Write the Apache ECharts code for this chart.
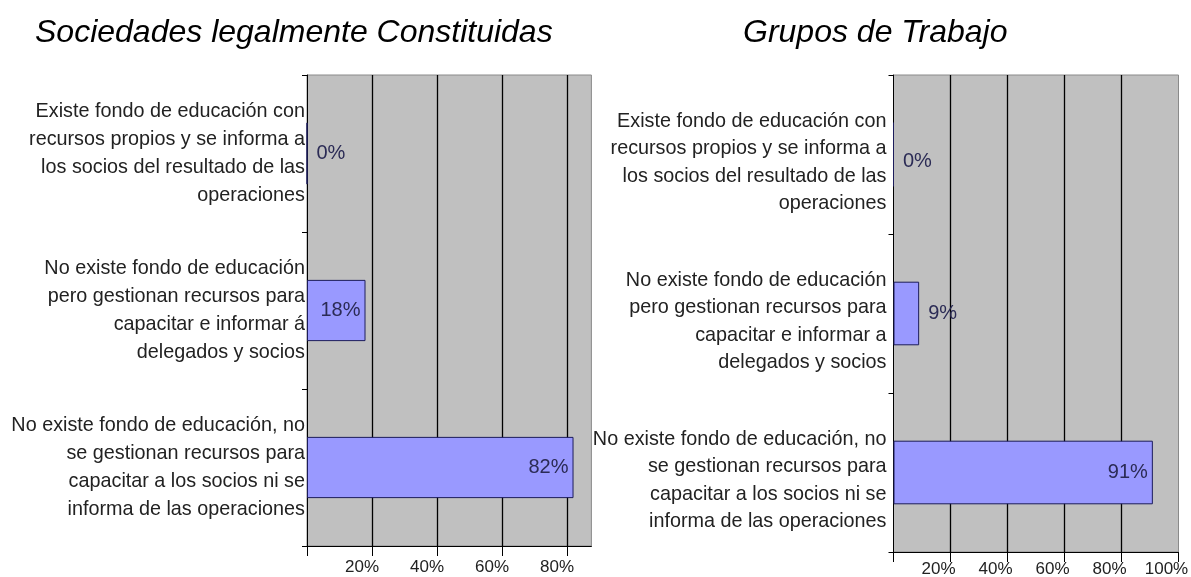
<!DOCTYPE html>
<html>
<head>
<meta charset="utf-8">
<script src="https://cdn.jsdelivr.net/npm/echarts@6/dist/echarts.min.js"></script>
<style>
  html, body { margin: 0; padding: 0; background: #ffffff; }
  #chart { width: 1191px; height: 577px; }
</style>
</head>
<body>
<div id="chart"></div>
<script>
// Categories (shared by both panels), top to bottom
const categories = [
  'Existe fondo de educación con\nrecursos propios y se informa a\nlos socios del resultado de las\noperaciones',
  'No existe fondo de educación\npero gestionan recursos para\ncapacitar e informar a\ndelegados y socios',
  'No existe fondo de educación, no\nse gestionan recursos para\ncapacitar a los socios ni se\ninforma de las operaciones'
];
// Left panel's second label uses an accented "á"
const categoriesLeft = [
  categories[0],
  'No existe fondo de educación\npero gestionan recursos para\ncapacitar e informar á\ndelegados y socios',
  categories[2]
];

// Percent of respondents per category
const sociedadesValues = [0, 18, 82];
const gruposValues = [0, 9, 91];

// Panel titles
const titleLeft = 'Sociedades legalmente Constituidas';
const titleRight = 'Grupos de Trabajo';

// Axis tick values
const tickValuesLeft = [0, 20, 40, 60, 80];
const tickLabelsLeft = [20, 40, 60, 80];
const tickValuesRight = [0, 20, 40, 60, 80, 100];
const tickLabelsRight = [20, 40, 60, 80, 100];

const FONT = '"Liberation Sans", Arial, sans-serif';
const CAT_SIZE = 19.8;

// Small bars carry their value label just past the bar end
function barData(values, zeroOffset) {
  return values.map(v => ({
    value: v,
    label: v < 15
      ? { position: 'right', distance: 9, offset: v === 0 ? [0, zeroOffset] : [0, 0] }
      : { position: 'insideRight', distance: 5 }
  }));
}

function valueAxis(gridIndex, max, ticks, labels, labelShift, margin, showMaxLine) {
  return {
    type: 'value',
    gridIndex: gridIndex,
    min: 0,
    max: max,
    interval: 20,
    axisLine: { show: true, lineStyle: { color: '#000000', width: 1 } },
    axisTick: {
      show: true, length: 10, inside: false,
      customValues: ticks,
      lineStyle: { color: '#000000', width: 1 }
    },
    axisLabel: {
      customValues: labels,
      formatter: v => v + '%',
      fontFamily: FONT,
      fontSize: 17,
      color: '#222222',
      margin: margin,
      align: 'center',
      padding: [0, labelShift, 0, 0]
    },
    splitLine: {
      show: true,
      showMinLine: false,
      showMaxLine: showMaxLine,
      lineStyle: { color: '#000000', width: 1.3 }
    }
  };
}

// Category labels as rich text; an optional spacer line on top nudges the block down
function categoryAxis(gridIndex, data, margin, topSpacer, lh) {
  return {
    type: 'category',
    gridIndex: gridIndex,
    data: data,
    inverse: true,
    axisLine: { show: true, lineStyle: { color: '#000000', width: 1 } },
    axisTick: { show: true, length: 5, alignWithLabel: false, lineStyle: { color: '#000000' } },
    axisLabel: {
      align: 'right',
      margin: margin,
      interval: 0,
      formatter: v => {
        const lines = v.split('\n').map(l => '{t|' + l + '}').join('\n');
        return topSpacer > 0 ? '{sp| }\n' + lines : lines;
      },
      rich: {
        t: { fontFamily: FONT, fontSize: CAT_SIZE, lineHeight: lh, color: '#222222' },
        sp: { fontSize: 2, lineHeight: topSpacer, height: topSpacer }
      }
    },
    splitLine: { show: false }
  };
}

const seriesLabel = {
  show: true,
  fontFamily: FONT,
  fontSize: 20,
  color: '#2b2b55',
  formatter: p => p.value + '%'
};

const option = {
  animation: false,
  backgroundColor: '#ffffff',
  title: [
    {
      text: titleLeft, left: 30, top: 12,
      textStyle: { fontFamily: FONT, fontStyle: 'italic', fontWeight: 'normal', fontSize: 32, color: '#000000' }
    },
    {
      text: titleRight, left: 738, top: 12,
      textStyle: { fontFamily: FONT, fontStyle: 'italic', fontWeight: 'normal', fontSize: 32, color: '#000000' }
    }
  ],
  grid: [
    { left: 307, top: 75, width: 284.4, height: 471, outerBoundsMode: 'none', containLabel: false,
      show: true, backgroundColor: '#c0c0c0', borderColor: '#8a8a8a', borderWidth: 1 },
    { left: 893.5, top: 75, width: 285, height: 477, outerBoundsMode: 'none', containLabel: false,
      show: true, backgroundColor: '#c0c0c0', borderColor: '#8a8a8a', borderWidth: 1 }
  ],
  xAxis: [
    valueAxis(0, 87.5, tickValuesLeft, tickLabelsLeft, 20, 13, true),
    valueAxis(1, 100, tickValuesRight, tickLabelsRight, 24, 9, false)
  ],
  yAxis: [
    categoryAxis(0, categoriesLeft, 2, 0, 28),
    categoryAxis(1, categories, 7, 16, 27.5)
  ],
  series: [
    {
      type: 'bar', xAxisIndex: 0, yAxisIndex: 0,
      data: barData(sociedadesValues, 0),
      barWidth: '39%',
      itemStyle: { color: '#9999ff', borderColor: '#1c1c5c', borderWidth: 1 },
      label: seriesLabel
    },
    {
      type: 'bar', xAxisIndex: 1, yAxisIndex: 1,
      data: barData(gruposValues, 7),
      barWidth: '40%',
      itemStyle: { color: '#9999ff', borderColor: '#1c1c5c', borderWidth: 1 },
      label: seriesLabel
    }
  ]
};

const chart = echarts.init(document.getElementById('chart'), null, { renderer: 'canvas' });
chart.setOption(option);
</script>
</body>
</html>
